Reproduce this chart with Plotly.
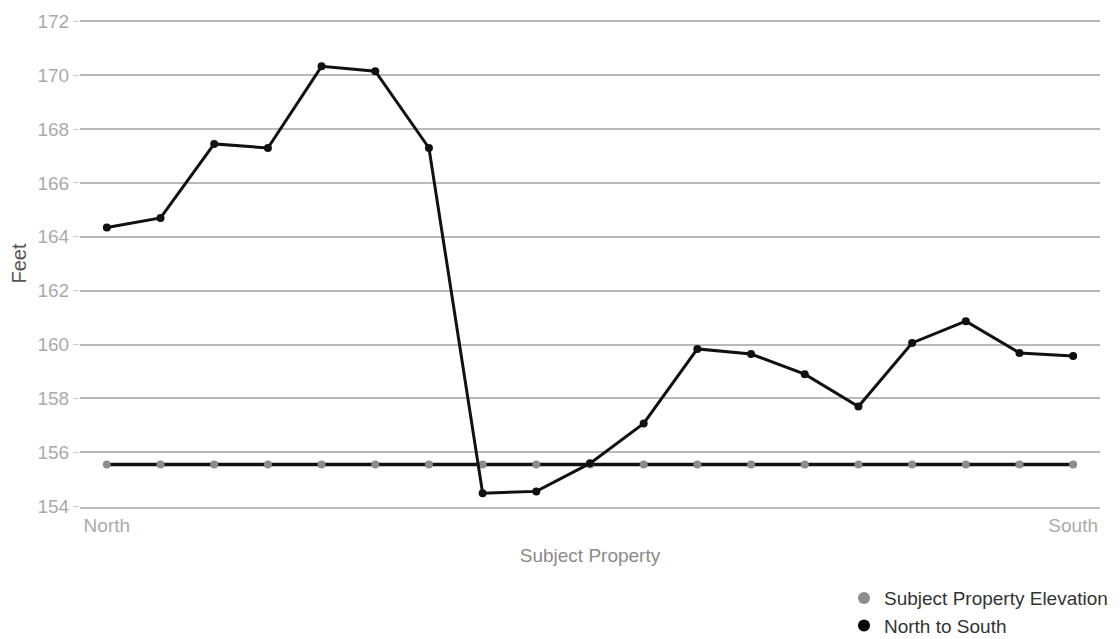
import plotly.graph_objects as go

positions = list(range(19))
tick_labels = ["North"] + [""] * 17 + ["South"]
north_to_south = [164.35, 164.7, 167.45, 167.3, 170.33, 170.15, 167.3, 154.48, 154.55,
                  155.59, 157.07, 159.84, 159.65, 158.9, 157.7, 160.06, 160.87, 159.69, 159.58]
subject_elev = [155.55] * 19
y_ticks = [154, 156, 158, 160, 162, 164, 166, 168, 170, 172]

FONT = "Liberation Sans, Arial, sans-serif"

fig = go.Figure()
fig.add_trace(go.Scatter(
    x=positions, y=subject_elev, mode="lines+markers",
    line=dict(color="#111111", width=3.5),
    marker=dict(color="#8c8c8c", size=8),
    showlegend=False, hoverinfo="y"))
fig.add_trace(go.Scatter(
    x=positions, y=north_to_south, mode="lines+markers",
    line=dict(color="#111111", width=3),
    marker=dict(color="#111111", size=8),
    showlegend=False, hoverinfo="y"))
# legend-only entries
fig.add_trace(go.Scatter(x=[None], y=[None], mode="markers", name="Subject Property Elevation",
                         marker=dict(color="#8c8c8c", size=15)))
fig.add_trace(go.Scatter(x=[None], y=[None], mode="markers", name="North to South",
                         marker=dict(color="#000000", size=15)))

fig.update_layout(
    width=1112, height=631,
    margin=dict(l=72, r=20, t=12, b=132),
    paper_bgcolor="white", plot_bgcolor="white",
    font=dict(family=FONT, size=16, color="#444444"),
    xaxis=dict(
        range=[-0.5, 18.5], tickmode="array", tickvals=positions, ticktext=tick_labels,
        showgrid=False, zeroline=False, showline=True, linecolor="#bbbbbb", linewidth=1.5,
        tickfont=dict(size=19, color="#aaaaaa"), automargin=False,
        title=dict(text="Subject Property", font=dict(size=19, color="#8a8a8a"), standoff=14),
    ),
    yaxis=dict(
        range=[153.97, 172.05], tickmode="array", tickvals=y_ticks,
        showgrid=True, gridcolor="#b8b8b8", gridwidth=1.5, zeroline=False,
        ticks="outside", ticklen=6, tickcolor="#cccccc", automargin=False,
        tickfont=dict(size=19, color="#aaaaaa"),
        title=dict(text="Feet", font=dict(size=20, color="#555555"), standoff=12),
    ),
    legend=dict(x=0.749, y=0.095, xref="paper", yref="container", xanchor="left", yanchor="top",
                font=dict(size=19, color="#333333"), bgcolor="rgba(0,0,0,0)",
                itemsizing="constant", tracegroupgap=0, itemwidth=30),
)

fig.write_html("out.html")
